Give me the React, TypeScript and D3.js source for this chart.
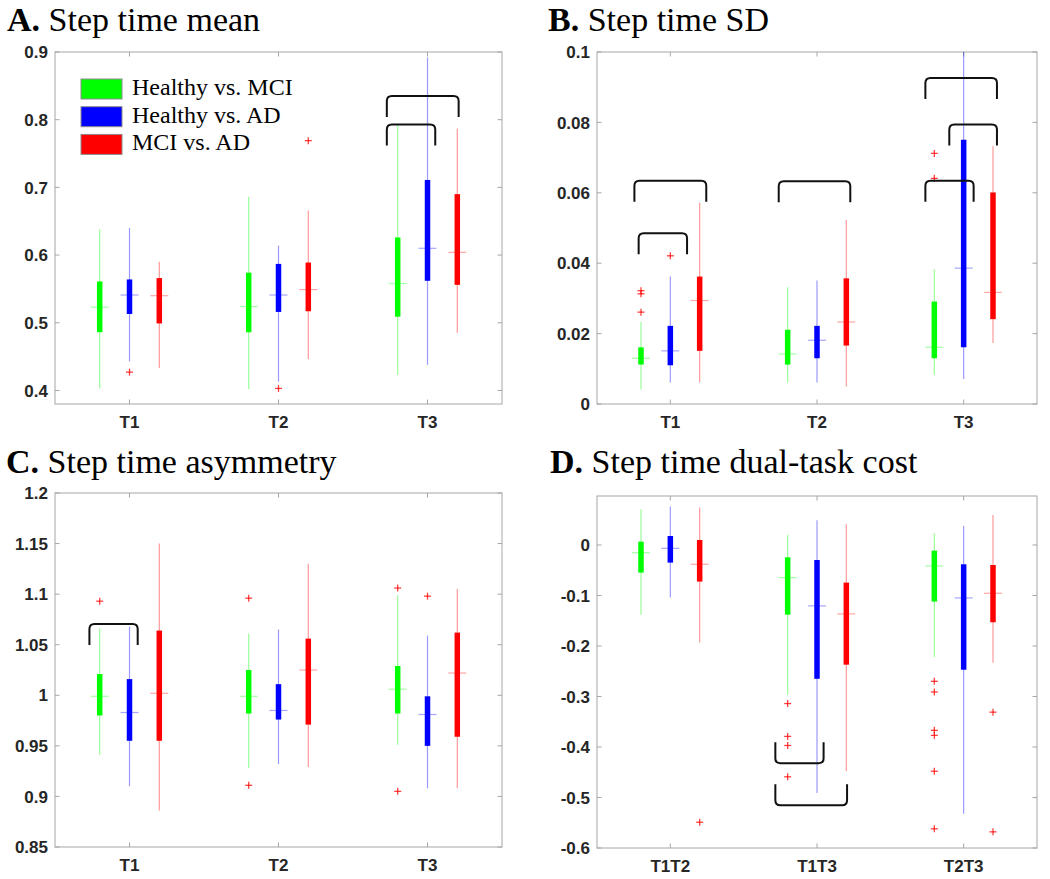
import React from 'react';
import * as d3 from 'd3';

type Stat = [number, number, number, number, number]; // whisker low, q1, median, q3, whisker high
type Outlier = [number, number, number]; // group, series, value
type Bracket = [number, number, number]; // x from, x to, y (data units)

const seriesNames = ['Healthy vs. MCI', 'Healthy vs. AD', 'MCI vs. AD'];
const seriesColors = ['#00ff00', '#0000ff', '#ff0000'];
const seriesOffsets = [-0.2, 0, 0.2];

const taskLabels = ['T1', 'T2', 'T3'];
const costLabels = ['T1T2', 'T1T3', 'T2T3'];

// A. Step time mean
const meanTicks = [0.4, 0.5, 0.6, 0.7, 0.8, 0.9];
const meanHealthyMci: Stat[] = [[0.403, 0.486, 0.523, 0.561, 0.638], [0.402, 0.486, 0.524, 0.574, 0.686], [0.423, 0.509, 0.558, 0.626, 0.792]];
const meanHealthyAd: Stat[] = [[0.443, 0.513, 0.541, 0.564, 0.64], [0.413, 0.516, 0.541, 0.587, 0.614], [0.438, 0.562, 0.61, 0.711, 0.892]];
const meanMciAd: Stat[] = [[0.433, 0.499, 0.54, 0.566, 0.59], [0.446, 0.517, 0.549, 0.589, 0.666], [0.485, 0.556, 0.604, 0.69, 0.787]];
const meanOutliers: Outlier[] = [[0, 1, 0.427], [1, 1, 0.403], [1, 2, 0.769]];
const meanBrackets: Bracket[] = [[2.727, 3.209, 0.835], [2.727, 3.052, 0.793]];

// B. Step time SD
const sdTicks = [0, 0.02, 0.04, 0.06, 0.08, 0.1];
const sdHealthyMci: Stat[] = [[0.0041, 0.0112, 0.013, 0.0161, 0.0234], [0.0061, 0.0112, 0.0142, 0.0211, 0.0332], [0.0083, 0.013, 0.0161, 0.0291, 0.0383]];
const sdHealthyAd: Stat[] = [[0.0061, 0.011, 0.0151, 0.0222, 0.0362], [0.0061, 0.013, 0.0181, 0.0222, 0.0351], [0.0071, 0.0161, 0.0386, 0.0751, 0.104]];
const sdMciAd: Stat[] = [[0.0061, 0.0151, 0.0294, 0.0362, 0.0572], [0.005, 0.0166, 0.0233, 0.0357, 0.0523], [0.0173, 0.0241, 0.0317, 0.0601, 0.0733]];
const sdOutliers: Outlier[] = [[0, 0, 0.0322], [0, 0, 0.0313], [0, 0, 0.0261], [0, 1, 0.0421], [2, 0, 0.0712], [2, 0, 0.0641]];
const sdBrackets: Bracket[] = [
  [0.755, 1.245, 0.0634], [0.784, 1.114, 0.0485], [1.739, 2.227, 0.0633],
  [2.739, 3.227, 0.0926], [2.902, 3.227, 0.0794], [2.739, 3.068, 0.0634],
];

// C. Step time asymmetry
const asymTicks = [0.85, 0.9, 0.95, 1, 1.05, 1.1, 1.15, 1.2];
const asymHealthyMci: Stat[] = [[0.941, 0.98, 0.999, 1.021, 1.066], [0.928, 0.982, 0.999, 1.025, 1.061], [0.951, 0.982, 1.006, 1.029, 1.099]];
const asymHealthyAd: Stat[] = [[0.91, 0.955, 0.983, 1.016, 1.068], [0.932, 0.976, 0.985, 1.011, 1.065], [0.908, 0.95, 0.981, 0.999, 1.059]];
const asymMciAd: Stat[] = [[0.886, 0.955, 1.002, 1.064, 1.15], [0.929, 0.971, 1.025, 1.056, 1.13], [0.908, 0.959, 1.022, 1.062, 1.105]];
const asymOutliers: Outlier[] = [[0, 0, 1.093], [1, 0, 1.096], [1, 0, 0.911], [2, 0, 1.106], [2, 0, 0.905], [2, 1, 1.098]];
const asymBrackets: Bracket[] = [[0.731, 1.055, 1.0705]];

// D. Step time dual-task cost
const costTicks = [-0.6, -0.5, -0.4, -0.3, -0.2, -0.1, 0];
const costHealthyMci: Stat[] = [[-0.138, -0.0547, -0.0152, 0.0066, 0.071], [-0.297, -0.138, -0.0646, -0.0244, 0.0198], [-0.222, -0.112, -0.0415, -0.0112, 0.023]];
const costHealthyAd: Stat[] = [[-0.1035, -0.0349, -0.0066, 0.0178, 0.076], [-0.491, -0.265, -0.1206, -0.0297, 0.049], [-0.532, -0.247, -0.1048, -0.0382, 0.0376]];
const costMciAd: Stat[] = [[-0.193, -0.0725, -0.0382, 0.0099, 0.074], [-0.448, -0.237, -0.1365, -0.0745, 0.041], [-0.233, -0.153, -0.0956, -0.0396, 0.0593]];
const costOutliers: Outlier[] = [
  [0, 2, -0.549],
  [1, 0, -0.314], [1, 0, -0.379], [1, 0, -0.397], [1, 0, -0.459],
  [2, 0, -0.27], [2, 0, -0.291], [2, 0, -0.367], [2, 0, -0.377], [2, 0, -0.448], [2, 0, -0.562],
  [2, 2, -0.331], [2, 2, -0.568],
];
const costBrackets: Bracket[] = [[1.716, 2.045, -0.432], [1.716, 2.205, -0.5155]];

const fmt = (v: number) => String(+v.toFixed(2));

interface PanelProps {
  id: string;
  letter: string;
  title: string;
  titleAt: [number, number];
  frame: [number, number, number, number]; // left, top, right, bottom
  yDomain: [number, number];
  yTicks: number[];
  categories: string[];
  stats: Stat[][];
  outliers: Outlier[];
  brackets: Bracket[];
  flip?: boolean;
  legend?: boolean;
}

const Panel: React.FC<PanelProps> = ({ id, letter, title, titleAt, frame, yDomain, yTicks, categories, stats, outliers, brackets, flip, legend }) => {
  const [left, top, right, bottom] = frame;
  const x = d3.scaleLinear().domain([0.5, 3.5]).range([left, right]);
  const y = d3.scaleLinear().domain(yDomain).range([bottom, top]);
  const axisColor = '#a6a6a6';
  const tickLen = 4.5;
  const drop = 21;
  const r = 5;

  const bracketPath = (b: Bracket) => {
    const x1 = x(b[0]);
    const x2 = x(b[1]);
    const yy = y(b[2]);
    const s = flip ? -1 : 1;
    const p = d3.path();
    p.moveTo(x1, yy + s * drop);
    p.lineTo(x1, yy + s * r);
    p.quadraticCurveTo(x1, yy, x1 + r, yy);
    p.lineTo(x2 - r, yy);
    p.quadraticCurveTo(x2, yy, x2, yy + s * r);
    p.lineTo(x2, yy + s * drop);
    return p.toString();
  };

  return (
    <g>
      <defs>
        <clipPath id={`clip-${id}`}>
          <rect x={left} y={top} width={right - left} height={bottom - top} />
        </clipPath>
      </defs>
      <text x={titleAt[0]} y={titleAt[1]} fontFamily="'Liberation Serif', 'Times New Roman', serif" fontSize={34} fill="#000">
        <tspan fontWeight="bold">{letter}</tspan> {title}
      </text>
      <rect x={left} y={top} width={right - left} height={bottom - top} fill="#fff" stroke={axisColor} strokeWidth={1} />
      {yTicks.map(t => (
        <g key={`y-${t}`}>
          <line x1={left} x2={left + tickLen} y1={y(t)} y2={y(t)} stroke={axisColor} />
          <line x1={right} x2={right - tickLen} y1={y(t)} y2={y(t)} stroke={axisColor} />
          <text x={left - 7} y={y(t)} dy="0.36em" textAnchor="end" fontFamily="'Liberation Sans', Arial, sans-serif" fontWeight="bold" fontSize={17} fill="#262626">
            {fmt(t)}
          </text>
        </g>
      ))}
      {categories.map((c, i) => (
        <g key={`x-${c}`}>
          <line x1={x(i + 1)} x2={x(i + 1)} y1={bottom} y2={bottom - tickLen} stroke={axisColor} />
          <line x1={x(i + 1)} x2={x(i + 1)} y1={top} y2={top + tickLen} stroke={axisColor} />
          <text x={x(i + 1)} y={bottom + 24} textAnchor="middle" fontFamily="'Liberation Sans', Arial, sans-serif" fontWeight="bold" fontSize={17} fill="#262626">
            {c}
          </text>
        </g>
      ))}
      <g clipPath={`url(#clip-${id})`}>
        {stats.map((series, si) =>
          series.map((s, gi) => {
            const cx = x(gi + 1 + seriesOffsets[si]);
            const col = seriesColors[si];
            return (
              <g key={`b-${si}-${gi}`}>
                <line x1={cx} x2={cx} y1={y(s[0])} y2={y(s[4])} stroke={col} strokeOpacity={0.4} strokeWidth={1.2} />
                <line x1={cx} x2={cx} y1={y(s[1])} y2={y(s[3])} stroke={col} strokeWidth={5.5} />
                <line x1={cx - 9} x2={cx + 9} y1={y(s[2])} y2={y(s[2])} stroke={col} strokeOpacity={0.35} strokeWidth={1.2} />
              </g>
            );
          })
        )}
        {outliers.map((o, i) => {
          const cx = x(o[0] + 1 + seriesOffsets[o[1]]);
          const cy = y(o[2]);
          return (
            <g key={`o-${i}`} stroke="#ff0000" strokeOpacity={0.75} strokeWidth={1.3}>
              <line x1={cx - 3.5} x2={cx + 3.5} y1={cy} y2={cy} />
              <line x1={cx} x2={cx} y1={cy - 3.5} y2={cy + 3.5} />
            </g>
          );
        })}
      </g>
      {brackets.map((b, i) => (
        <path key={`k-${i}`} d={bracketPath(b)} fill="none" stroke="#111" strokeWidth={2} strokeLinejoin="round" />
      ))}
      {legend &&
        seriesNames.map((n, i) => (
          <g key={`l-${n}`}>
            <rect x={left + 26} y={top + 27 + i * 27.7} width={41} height={20} fill={seriesColors[i]} stroke="#8c8c8c" strokeWidth={1} />
            <text x={left + 77} y={top + 43 + i * 27.7} fontFamily="'Liberation Serif', 'Times New Roman', serif" fontSize={24} fill="#000">
              {n}
            </text>
          </g>
        ))}
    </g>
  );
};

const App: React.FC = () => (
  <svg width={1050} height={879} viewBox="0 0 1050 879" style={{ position: 'absolute', left: 0, top: 0, background: '#fff' }}>
    <rect width={1050} height={879} fill="#fff" />
    <Panel id="a" letter="A." title="Step time mean" titleAt={[7, 31]} frame={[55, 52, 502, 404]}
      yDomain={[0.38, 0.9]} yTicks={meanTicks} categories={taskLabels}
      stats={[meanHealthyMci, meanHealthyAd, meanMciAd]} outliers={meanOutliers} brackets={meanBrackets} legend />
    <Panel id="b" letter="B." title="Step time SD" titleAt={[548, 31]} frame={[597, 52, 1037, 404]}
      yDomain={[0, 0.1]} yTicks={sdTicks} categories={taskLabels}
      stats={[sdHealthyMci, sdHealthyAd, sdMciAd]} outliers={sdOutliers} brackets={sdBrackets} />
    <Panel id="c" letter="C." title="Step time asymmetry" titleAt={[6, 473]} frame={[55, 493, 502, 847]}
      yDomain={[0.85, 1.2]} yTicks={asymTicks} categories={taskLabels}
      stats={[asymHealthyMci, asymHealthyAd, asymMciAd]} outliers={asymOutliers} brackets={asymBrackets} />
    <Panel id="d" letter="D." title="Step time dual-task cost" titleAt={[550, 473]} frame={[597, 496, 1037, 848]}
      yDomain={[-0.6, 0.097]} yTicks={costTicks} categories={costLabels}
      stats={[costHealthyMci, costHealthyAd, costMciAd]} outliers={costOutliers} brackets={costBrackets} flip />
  </svg>
);

export default App;
